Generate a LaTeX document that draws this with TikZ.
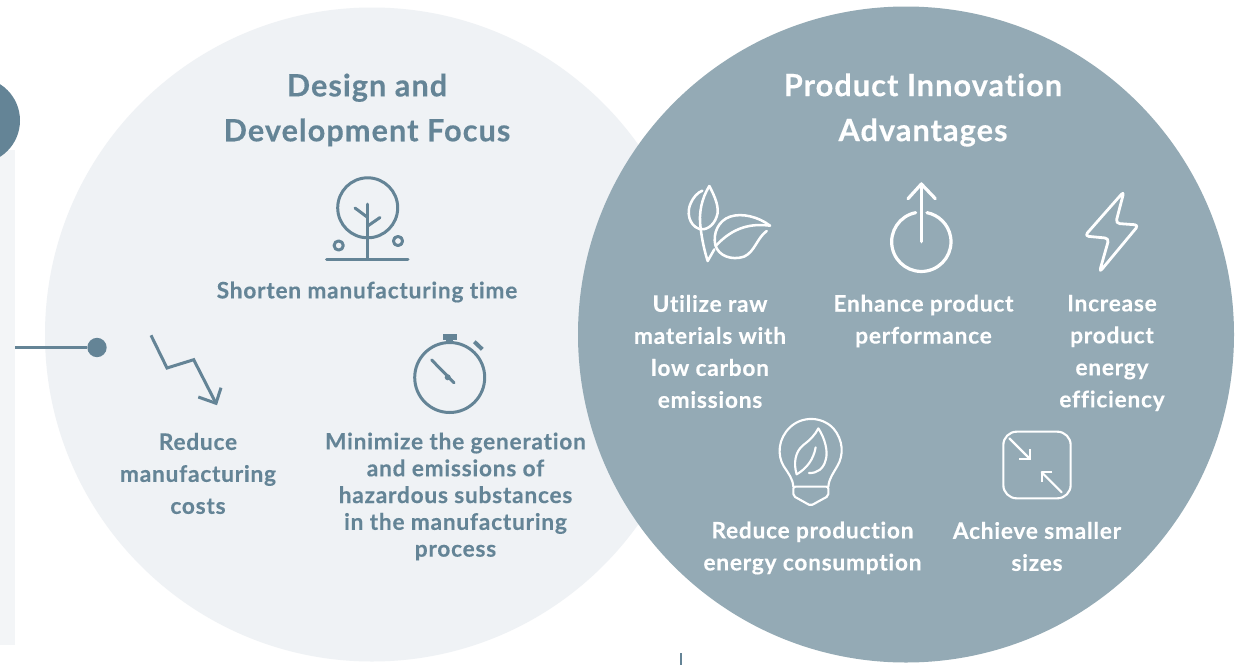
\documentclass[tikz,border=0pt]{standalone}
\usepackage{fontspec}
\setmainfont{Lato}[BoldFont={Lato Bold},BoldFeatures={FakeBold=0.35},LetterSpace=3.4,Ligatures=NoCommon]
\definecolor{teal}{HTML}{648496}
\definecolor{pale}{HTML}{EFF2F5}
\definecolor{slate}{HTML}{94AAB5}
\definecolor{barpale}{HTML}{F3F5F7}
\tikzset{
  bubble/.style={circle,inner sep=0pt,minimum size=#1},
  lab/.style={align=center,inner sep=0pt,font=\fontsize{17pt}{24pt}\selectfont\bfseries},
  tight/.style={align=center,inner sep=0pt,font=\fontsize{17pt}{20.1pt}\selectfont\bfseries},
  ttl/.style={align=center,inner sep=0pt,font=\fontsize{23pt}{33.7pt}\selectfont\bfseries},
  icona/.style={draw=teal,line width=2.25pt,line cap=round,line join=round},
  iconb/.style={draw=white,line width=1.9pt,line cap=round,line join=round},
  iconc/.style={iconb,line width=2.4pt},
  icond/.style={iconb,line width=1.6pt},
  zoomed/.style={shift={(#1)},x=0.25pt,y=-0.25pt}
}
\begin{document}
\begin{tikzpicture}[x=0.75pt,y=-0.75pt]
\useasboundingbox (0,0) rectangle (1236,665);
\clip (0,0) rectangle (1236,665);
\fill[white] (0,0) rectangle (1236,665);
% left bar and head
\fill[barpale] (0,150) rectangle (15,645);
\fill[teal] (-23,120.5) circle[radius=43];
% circles
\node[bubble=490.5pt,fill=pale] (left) at (372,334.5) {};
\node[bubble=492pt,fill=slate] (right) at (906,334.5) {};
% connector
\coordinate (barend) at (15,347.5);
\node[bubble=14.5pt,fill=teal] (dot) at (97,347.5) {};
\draw[teal,line width=1.6pt] (barend) -- (dot);
% bottom stub
\coordinate (stubtop) at (681,653);
\coordinate (stubend) at (681,665);
\draw[teal,line width=1.8pt] (stubtop) -- (stubend);
% titles
\node[ttl,text=teal] (t1) at (367,110) {Design and\\Development Focus};
\node[ttl,text=white] (t2) at (923,110) {Product Innovation\\Advantages};
% left labels
\node[lab,text=teal] (l1) at (367,292) {Shorten manufacturing time};
\node[lab,text=teal] (l2) at (198,473.5) {Reduce\\manufacturing\\costs};
\node[tight,text=teal] (l3) at (455.5,496.5) {Minimize the generation\\and emissions of\\hazardous substances\\in the manufacturing\\process};
% right labels
\node[lab,text=white] (r1) at (710,351.5) {Utilize raw\\materials with\\low carbon\\emissions};
\node[lab,text=white] (r2) at (923.5,321) {Enhance product\\performance};
\node[lab,text=white] (r3) at (1112,353) {Increase\\product\\energy\\efficiency};
\node[lab,text=white] (r4) at (812.5,548) {Reduce production\\energy consumption};
\node[lab,text=white] (r5) at (1037,546.5) {Achieve smaller\\sizes};
% tree
\draw[icona] (367.7,207.8) circle[radius=30];
\draw[icona] (367.7,204) -- (367.7,259);
\draw[icona] (326.5,259) -- (408,259);
\draw[icona] (355,208) -- (367.7,217.5);
\draw[icona] (380,217.5) -- (367.7,226);
\draw[icona] (338.7,245.5) circle[radius=4.6];
\draw[icona] (398,241) circle[radius=4.6];
% zigzag
\draw[icona,line cap=butt,line join=miter] (151,335.3) -- (167,368) -- (193.7,359.7) -- (216,403.3);
\draw[icona,line cap=butt,line join=miter] (198.3,397) -- (216,403.3) -- (221,387.7);
% stopwatch
\draw[icona] (449.7,377.5) circle[radius=35];
\fill[teal] (442.7,334.3) rectangle (456.7,340);
\fill[teal] (446,339) rectangle (453,344);
\draw[icona,line width=3pt,line cap=butt] (474.3,341.7) -- (482.3,349.3);
\draw[icona] (431.7,360) -- (454,382.7);
\fill[teal] (447.7,377.3) circle[radius=3];
% leaves
\begin{scope}[zoomed={670,170}]
\draw[iconb] (118,48) .. controls (95,85) and (85,130) .. (92,175) .. controls (96,210) and (104,245) .. (113,273) -- (133,238);
\draw[iconb] (118,48) .. controls (135,80) and (150,115) .. (140,140) .. controls (130,170) and (105,182) .. (88,177) .. controls (55,165) and (50,125) .. (62,100) .. controls (70,82) and (82,68) .. (97,62);
\draw[iconb] (300,167) .. controls (265,140) and (215,128) .. (180,140) .. controls (145,152) and (128,190) .. (136,225) .. controls (145,258) and (185,272) .. (222,260) .. controls (255,245) and (260,205) .. (290,183);
\draw[iconb] (300,167) .. controls (245,160) and (190,170) .. (137,228);
% power
\draw[iconc] (737,128) arc[start angle=-101,end angle=-439,radius=89];
\draw[iconc] (754,215) -- (754,42);
\draw[iconc] (714,86) -- (754,42) -- (796,86);
\end{scope}
% bolt
\begin{scope}[zoomed={1060,170}]
\draw[iconc,line width=2.1pt,rounded corners=3pt] (192,64) -- (167,160) -- (236,165) -- (118,307) -- (147,205) -- (74,198) -- cycle;
\end{scope}
% bulb
\begin{scope}[zoomed={760,410}]
\draw[icond] (100,230) .. controls (98,205) and (85,190) .. (72,170) .. controls (50,135) and (55,85) .. (90,52) .. controls (125,18) and (185,18) .. (220,55) .. controls (250,90) and (252,135) .. (232,168) .. controls (220,190) and (207,205) .. (205,230);
\draw[icond,rounded corners=1.5pt] (100,230) -- (205,230) -- (205,258) -- (152,287) -- (100,258) -- cycle;
\draw[icond] (110,193) .. controls (100,160) and (105,125) .. (130,105) .. controls (150,90) and (165,75) .. (175,55) .. controls (195,85) and (205,125) .. (197,150) .. controls (190,178) and (170,190) .. (147,189);
\draw[icond] (167,112) .. controls (160,150) and (140,175) .. (110,193);
% shrink
\draw[icond,rounded corners=10pt] (730,65) rectangle (932,265);
\draw[icond] (748,85) -- (810,147);
\draw[icond,line cap=butt] (778,147) -- (810,147) -- (810,117);
\draw[icond] (905,247) -- (845,187);
\draw[icond,line cap=butt] (877,187) -- (845,187) -- (845,217);
\end{scope}
\end{tikzpicture}
\end{document}
